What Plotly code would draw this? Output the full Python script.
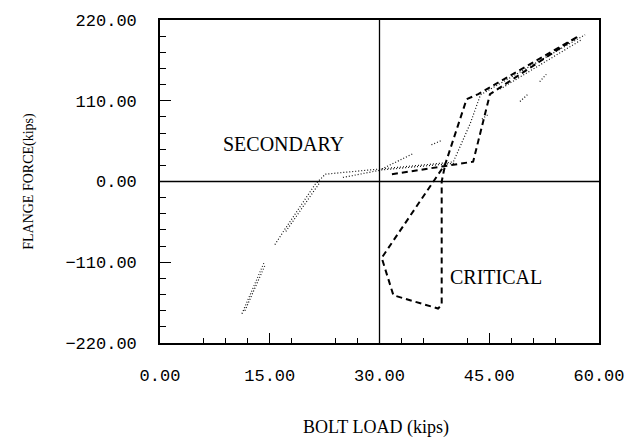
import plotly.graph_objects as go

# ---- data ----
crit_x = [31.7, 42.8, 45.1, 57.2, 43.5, 41.9, 39.0, 30.3, 31.9, 38.0, 38.5, 38.5, 39.0]
crit_y = [9.9, 27.0, 119.0, 198.0, 119.0, 112.0, 24.0, -104.0, -155.0, -173.0, -168.0, 0.0, 24.0]

sec_a_x = [11.2, 14.2]
sec_a_y = [-180.0, -111.0]
sec_a2_x = [11.6, 14.4]
sec_a2_y = [-176.0, -113.0]
sec_b_x = [15.7, 17.0, 21.2, 22.6]
sec_b_y = [-86.0, -66.0, -4.0, 10.0]
sec_b2_x = [17.2, 21.8]
sec_b2_y = [-68.0, -2.0]
sec_c_x = [22.6, 30.3, 39.6, 40.1, 42.4, 43.8, 58.1]
sec_c_y = [10.0, 17.0, 26.0, 27.0, 79.0, 118.0, 200.0]
sec_c2_x = [25.0, 30.3, 40.4]
sec_c2_y = [5.5, 15.8, 25.0]
sec_d_x = [30.3, 33.3, 34.6, None, 37.1, 38.5]
sec_d_y = [17.0, 31.0, 38.0, None, 50.0, 56.0]
sec_e_x = [49.2, 50.3, None, 51.9, 52.8, None, 44.0, 44.8]
sec_e_y = [109.0, 119.0, None, 136.0, 146.0, None, 85.0, 91.0]
sec_f_x = [46.5, 57.6]
sec_f_y = [126.0, 193.0]

x_ticks = [0, 15, 30, 45, 60]
y_ticks = [-220, -110, 0, 110, 220]
x_minor = [6, 9, 12, 18, 24, 27, 33, 36, 42, 48, 51, 54]
y_minor = [-198, -176, -154, -132, -88, -66, -44, -22, 22, 44, 66, 88, 132, 154, 176, 198]

fig = go.Figure()

dotted = [(sec_a_x, sec_a_y), (sec_a2_x, sec_a2_y), (sec_b_x, sec_b_y), (sec_b2_x, sec_b2_y),
          (sec_c_x, sec_c_y), (sec_c2_x, sec_c2_y), (sec_d_x, sec_d_y), (sec_e_x, sec_e_y),
          (sec_f_x, sec_f_y)]
for xs, ys in dotted:
    fig.add_trace(go.Scatter(x=xs, y=ys, mode="lines", connectgaps=False,
                             line=dict(color="#111111", width=1.2, dash="1px,2px"),
                             showlegend=False, hoverinfo="skip"))

fig.add_trace(go.Scatter(x=crit_x, y=crit_y, mode="lines",
                         line=dict(color="black", width=2, dash="6px,4px"),
                         showlegend=False, hoverinfo="skip"))

mono = "Liberation Mono, Courier New, monospace"
serif = "Liberation Serif, Times New Roman, serif"

fig.update_xaxes(range=[0, 60], tickvals=x_ticks, tickformat=".2f",
                 ticks="inside", ticklen=10, tickwidth=1.2, tickcolor="black",
                 minor=dict(tickvals=x_minor, ticks="inside", ticklen=5, tickwidth=1, tickcolor="black"),
                 showline=True, linecolor="black", linewidth=1.6, mirror=True,
                 showgrid=False, zeroline=False, ticklabelstandoff=16,
                 tickfont=dict(family=mono, size=17, color="black"))
fig.update_yaxes(range=[-220, 220], tickvals=y_ticks, tickformat=".2f",
                 ticks="inside", ticklen=11, tickwidth=1.2, tickcolor="black",
                 minor=dict(tickvals=y_minor, ticks="inside", ticklen=6, tickwidth=1, tickcolor="black"),
                 showline=True, linecolor="black", linewidth=1.6, mirror=True,
                 showgrid=False, zeroline=False, ticklabelstandoff=18,
                 tickfont=dict(family=mono, size=17, color="black"))

fig.add_shape(type="line", xref="x", yref="paper", x0=30, x1=30, y0=0, y1=1,
              line=dict(color="black", width=1.3))
fig.add_shape(type="line", xref="paper", yref="y", x0=0, x1=1, y0=0, y1=0,
              line=dict(color="black", width=1.6))

fig.add_annotation(x=16.9, y=51, xref="x", yref="y", text="SECONDARY", showarrow=False,
                   xanchor="center", yanchor="middle",
                   font=dict(family=serif, size=20, color="black"))
fig.add_annotation(x=45.9, y=-130, xref="x", yref="y", text="CRITICAL", showarrow=False,
                   xanchor="center", yanchor="middle",
                   font=dict(family=serif, size=20, color="black"))
fig.add_annotation(x=0.492, y=-0.261, xref="paper", yref="paper", text="BOLT LOAD (kips)",
                   showarrow=False, xanchor="center", yanchor="middle",
                   font=dict(family=serif, size=18, color="black"))
fig.add_annotation(x=-0.30, y=0.5, xref="paper", yref="paper", text="FLANGE FORCE(kips)",
                   textangle=-90, showarrow=False, xanchor="center", yanchor="middle",
                   font=dict(family=serif, size=14, color="black"))

fig.update_layout(width=637, height=442, margin=dict(l=160, r=38, t=17, b=99),
                  plot_bgcolor="white", paper_bgcolor="white")

fig.write_html("out.html")
